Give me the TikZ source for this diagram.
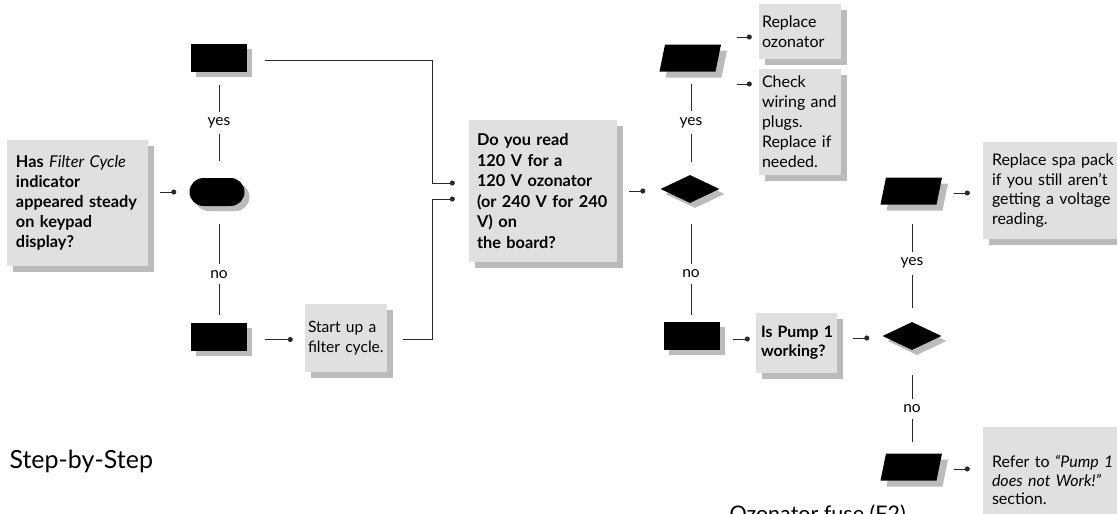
\documentclass[tikz,border=0pt]{standalone}
\usepackage{fontspec}
\setmainfont{Lato}
\usetikzlibrary{shapes.geometric,shadows,arrows.meta,calc}
\definecolor{boxgray}{HTML}{E0E0E0}
\definecolor{shd}{HTML}{BBBBBB}
\definecolor{ln}{HTML}{2A2A2A}
\tikzset{
 gbox/.style={fill=boxgray, align=left, inner ysep=0pt, font=\fontsize{16}{20}\selectfont,
   execute at begin node={\hyphenpenalty=10000\exhyphenpenalty=10000},
   drop shadow={shadow xshift=6pt,shadow yshift=-6pt,fill=shd,opacity=1}},
 blk/.style={fill=black, inner sep=0pt,
   drop shadow={shadow xshift=5pt,shadow yshift=-5pt,fill=shd,opacity=1}},
 brect/.style={blk, minimum width=56pt, minimum height=28pt},
 pbox/.style={inner sep=0pt, minimum width=61pt, minimum height=27pt},
 bdia/.style={blk, diamond, minimum width=59pt, minimum height=28pt},
 bstad/.style={blk, rounded corners=14pt, minimum width=55pt, minimum height=28pt},
 conn/.style={draw=ln, line width=0.9pt, -{Circle[length=5pt]}},
 vline/.style={draw=ln, line width=0.9pt},
 lab/.style={fill=white, inner xsep=2pt, inner ysep=6pt, font=\fontsize{15.5}{18}\selectfont},
 head/.style={anchor=base west},
}
% parallelogram symbol: shadow, black body, then a named node over it
\newcommand\mypara[3]{%
  \fill[shd] ($(#2,#3)+(-24.5,19.5)$) -- ++(56,0) -- ++(5.5,-27) -- ++(-56,0) -- cycle;
  \fill[black] ($(#2,#3)+(-30.5,13.5)$) -- ++(56,0) -- ++(5.5,-27) -- ++(-56,0) -- cycle;
  \node[pbox] (#1) at (#2,#3) {};
}
\begin{document}
\begin{tikzpicture}[x=1pt,y=-1pt]
\useasboundingbox (0,0) rectangle (1117,514);
\clip (0,0) rectangle (1117,514);

% grey text boxes
\node[gbox, text width=123pt, inner xsep=9pt, minimum height=126pt, font=\fontsize{16.3}{20}\selectfont] (q1) at (77.5,203)
  {\textbf{Has} \textit{Filter Cycle}\\ \textbf{indicator}\\ \textbf{appeared steady}\\ \textbf{on keypad}\\ \textbf{display?}};
\node[gbox, text width=76pt, inner xsep=3pt, minimum height=68pt, font=\fontsize{15.6}{20}\selectfont] (start) at (346,338)
  {\mbox{Start up a}\\ \mbox{filter cycle.}};
\node[gbox, text width=132pt, inner xsep=8pt, minimum height=142pt, font=\fontsize{16.3}{20.5}\selectfont\bfseries] (q2) at (543,191)
  {Do you read\\ 120 V for a\\ 120 V ozonator\\ \mbox{(or 240 V for 240}\\ V) on\\ the board?};
\node[gbox, text width=76pt, inner xsep=3pt, minimum height=55pt] (repoz) at (800,31.5)
  {Replace\\ ozonator};
\node[gbox, text width=76pt, inner xsep=3pt, minimum height=106pt] (check) at (800,122)
  {Check\\ \mbox{wiring and}\\ plugs.\\ \mbox{Replace if}\\ needed.};
\node[gbox, text width=71pt, inner xsep=5pt, minimum height=60pt, font=\fontsize{15.8}{19}\selectfont\bfseries] (q3) at (796.5,343)
  {\mbox{Is Pump 1}\\ working?};
\node[gbox, text width=127pt, inner xsep=9pt, minimum height=97pt, font=\fontsize{16}{19.5}\selectfont] (spa) at (1055.5,190.5)
  {\mbox{Replace spa pack}\\ \mbox{if you still aren’t}\\ \mbox{getting a voltage}\\ reading.};
\node[gbox, text width=127pt, inner xsep=9pt, minimum height=106pt, font=\fontsize{16}{18.5}\selectfont] (refer) at (1055.5,480)
  {\mbox{Refer to \textit{“Pump 1}}\\ \mbox{\textit{does not Work!”}}\\ section.};

% black symbols
\node[brect] (r1) at (219,58) {};
\node[bstad] (stad) at (217,192) {};
\node[brect] (r2) at (219,336.5) {};
\mypara{p1}{690}{58}
\node[bdia] (d1) at (690,189) {};
\node[brect] (r3) at (692,336) {};
\mypara{p2}{911}{191}
\node[bdia] (d2) at (912,336) {};
\mypara{p3}{911}{467}

% headings
\node[head, font=\fontsize{25}{28}\selectfont] (sbs) at (6,468) {Step-by-Step};
\node[head, font=\fontsize{21.5}{24}\selectfont] (oz) at (726,521.5) {Ozonator fuse (F2)};

% connectors
\draw[conn] ($(q1.east |- stad.west)+(12,0)$) -- ($(stad.west)+(-13,0)$);
\draw[vline] ($(r1.south)+(0,13)$) -- node[lab]{yes} ($(stad.north -| r1.south)+(0,-17)$);
\draw[vline] ($(stad.south -| r2.north)+(0,18)$) -- node[lab,pos=0.55]{no} ($(r2.north)+(0,-7)$);
\draw[conn] ($(r2.east)+(18,3)$) -- ($(r2.east -| start.west)+(-12,3)$);
\draw[conn] ($(start.east)+(16,1)$) -| ($(q2.west)+(-36,8)$) -- ($(q2.west)+(-14,8)$);
\draw[conn] ($(r1.east)+(18,2)$) -| ($(q2.west)+(-36,-8)$) -- ($(q2.west)+(-14,-8)$);
\draw[conn] ($(q2.east)+(12,0)$) -- ($(q2.east -| d1.west)+(-15,0)$);
\draw[vline] ($(p1.south)+(1,12)$) -- node[lab]{yes} ($(d1.north)+(1,-13)$);
\draw[vline] ($(d1.south)+(1,21)$) -- node[lab,pos=0.55]{no} ($(r3.north -| d1.south)+(1,-7)$);
\draw[conn] ($(p1.east |- repoz.west)+(16.5,5.5)$) -- ($(repoz.west)+(-7,5.5)$);
\draw[conn] ($(p1.east |- check.west)+(16.5,-38)$) -- ($(check.west)+(-7,-38)$);
\draw[conn] ($(r3.east)+(13,3)$) -- ($(r3.east -| q3.west)+(-6,3)$);
\draw[conn] ($(q3.east)+(16,-5)$) -- ($(q3.east -| d2.west)+(-13,-5)$);
\draw[vline] ($(p2.south -| d2.north)+(0,19)$) -- node[lab,pos=0.47]{yes} ($(d2.north)+(0,-14)$);
\draw[vline] ($(d2.south)+(0,25)$) -- node[lab]{no} ($(p3.north -| d2.south)+(0,-11)$);
\draw[conn] ($(p2.east)+(12.5,2)$) -- ($(p2.east -| spa.west)+(-13,2)$);
\draw[conn] ($(p3.east)+(12.5,2)$) -- ($(p3.east -| refer.west)+(-13,2)$);
\end{tikzpicture}
\end{document}
